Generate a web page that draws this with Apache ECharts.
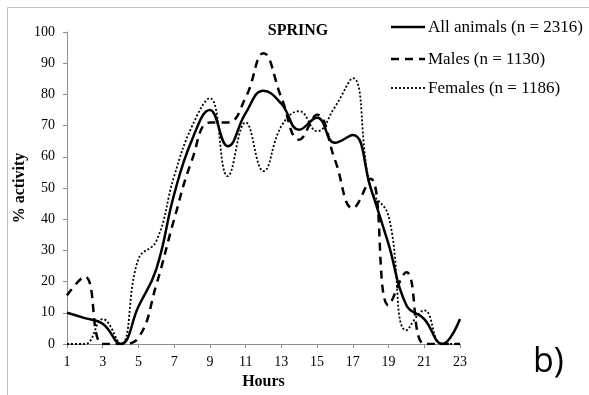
<!DOCTYPE html>
<html>
<head>
<meta charset="utf-8">
<script src="https://cdn.jsdelivr.net/npm/echarts@6/dist/echarts.min.js"></script>
<style>
  html, body { margin: 0; padding: 0; background: #fff; }
  #chart { width: 589px; height: 395px; }
</style>
</head>
<body>
<div id="chart"></div>
<script>
// Hour of day (x) and % activity per group, spring season
const hours = [1, 2, 3, 4, 5, 6, 7, 8, 9, 10, 11, 12, 13, 14, 15, 16, 17, 18, 19, 20, 21, 22, 23];
const allAnimals = [10, 8.3, 6.5, 0, 12, 24, 48, 65.5, 75, 63.4, 74, 81.2, 77, 68.7, 72.5, 64.5, 67, 50, 32, 12.4, 8, 0, 8];
const males = [15.6, 21.6, 0, 0, 2, 19, 40, 59, 71, 71, 79, 93.2, 79, 65.5, 73.5, 59, 43.5, 53, 12.4, 23, 0, 0, 0];
const females = [0, 0, 8, 0, 27.3, 33, 53.8, 69.8, 78.8, 53.8, 71, 55.4, 69.8, 74.6, 68.2, 76, 85.2, 50, 41, 4.4, 10.8, 0, 0];
const seriesNames = ['All animals (n = 2316)', 'Males (n = 1130)', 'Females (n = 1186)'];

const serif = '"Liberation Serif", "Times New Roman", serif';
const pair = (ys) => hours.map((h, i) => [h, ys[i]]);

// line look for each group (shared by the plotted series and the key)
const styles = [
  { color: '#000', width: 2.5, type: 'solid' },
  { color: '#000', width: 2.5, type: [8, 6] },
  { color: '#000', width: 1.8, type: [2, 2] }
];
const groups = [allAnimals, males, females];

// hand-built key at the upper right: line sample followed by its label
const keyGraphics = [];
seriesNames.forEach((name, i) => {
  const y = [27, 59, 88][i];
  keyGraphics.push({
    type: 'line', silent: true,
    shape: { x1: 391, y1: y, x2: 425, y2: y },
    style: { stroke: '#000', lineWidth: styles[i].width, lineDash: styles[i].type === 'solid' ? null : styles[i].type }
  });
  keyGraphics.push({
    type: 'text', silent: true, x: 428, y: y + 1,
    style: { text: name, font: '17px ' + serif, fill: '#000', verticalAlign: 'middle' }
  });
});

const chart = echarts.init(document.getElementById('chart'), null, { renderer: 'canvas' });
chart.setOption({
  animation: false,
  backgroundColor: '#fff',
  title: {
    text: 'SPRING',
    left: 293, top: 18,
    textAlign: 'center',
    textStyle: { fontFamily: serif, fontSize: 16, fontWeight: 'bold', color: '#000' }
  },
  grid: { left: 67, right: 129, top: 32, bottom: 49.5 },
  xAxis: {
    type: 'value', min: 1, max: 23, interval: 2,
    name: 'Hours', nameLocation: 'middle', nameGap: 30,
    nameTextStyle: { fontFamily: serif, fontSize: 16, fontWeight: 'bold', color: '#000' },
    axisLine: { lineStyle: { color: '#8c8c8c', width: 1 } },
    axisTick: { show: true, length: 4, lineStyle: { color: '#8c8c8c' } },
    axisLabel: { fontFamily: serif, fontSize: 14, color: '#000', margin: 11 },
    splitLine: { show: false }
  },
  yAxis: {
    type: 'value', min: 0, max: 100, interval: 10,
    name: '% activity', nameLocation: 'middle', nameGap: 39, nameRotate: 90,
    nameMoveOverlap: false,
    nameTextStyle: { fontFamily: serif, fontSize: 16, fontWeight: 'bold', color: '#000' },
    axisLine: { show: true, lineStyle: { color: '#8c8c8c', width: 1 } },
    axisTick: { show: true, length: 4, lineStyle: { color: '#8c8c8c' } },
    axisLabel: { fontFamily: serif, fontSize: 14, color: '#000', margin: 12 },
    splitLine: { show: false }
  },
  series: seriesNames.map((name, i) => ({
    name: name, type: 'line', data: pair(groups[i]),
    smooth: 0.45, symbol: 'none',
    lineStyle: styles[i], itemStyle: { color: '#000' }
  })),
  graphic: [
    {
      type: 'rect', silent: true, z: -1,
      shape: { x: 7.5, y: 7.5, width: 600, height: 400 },
      style: { fill: 'none', stroke: '#c0c0c0', lineWidth: 1 }
    },
    {
      type: 'text', left: 533, top: 345,
      style: { text: 'b)', font: '34px "Open Sans", "DejaVu Sans", sans-serif', fill: '#000' }
    }
  ].concat(keyGraphics)
});
</script>
</body>
</html>
